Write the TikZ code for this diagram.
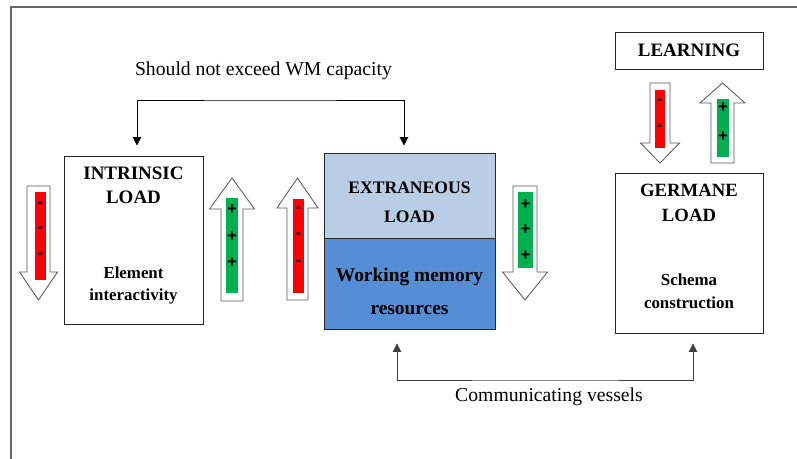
\documentclass[tikz,border=0pt]{standalone}
\usepackage{fontspec}
\setmainfont{Liberation Serif}
\newfontfamily\signfont{Liberation Sans}
\usetikzlibrary{arrows.meta,fit,calc}

\definecolor{lightblu}{HTML}{B9CDE5}
\definecolor{midblu}{HTML}{558ED5}
\definecolor{grn}{HTML}{00B050}

% hollow block arrow: centre x, half shaft, half head, flat end, head base, tip
\newcommand{\blkarrow}[6]{%
  \draw[blk] (#1-#2,#4) -- (#1+#2,#4) -- (#1+#2,#5) -- (#1+#3,#5)
    -- (#1,#6) -- (#1-#3,#5) -- (#1-#2,#5) -- cycle;}

\tikzset{
  box/.style={draw=black!85, line width=0.7pt, inner sep=0pt},
  blk/.style={draw=black!65, line width=0.6pt, fill=white},
  ttl/.style={font=\fontsize{13.5}{17}\selectfont\bfseries, align=center},
  sub/.style={font=\fontsize{12}{15}\selectfont\bfseries, align=center},
  sgn/.style={font=\signfont\fontsize{12}{12}\selectfont\bfseries, inner sep=0pt},
  lbl/.style={font=\fontsize{14}{16}\selectfont},
}

\begin{document}
\begin{tikzpicture}[x=0.025cm, y=-0.025cm, >={Triangle[length=6pt,width=6pt]}]
 \useasboundingbox (0,0) rectangle (797,459);
 \draw[black!60, line width=1.2pt] (11,459) -- (11,7) -- (797,7);

	% Boites
 \node[box, fit={(64,156) (203,324)}] (intr) {};
 \node[box, fill=lightblu, fit={(324,153) (495,238)}] (extr) {};
 \node[box, fill=midblu, fit={(324,238) (495,329)}] (wmr) {};
 \node[box, fit={(615,173) (763,333)}] (germ) {};
 \node[box, fit={(615,32) (763,69)}] (learn) {};

 \node[ttl] (learnT) at (learn.center) {LEARNING};
 \node[ttl] (intrT) at (133.5,185) {INTRINSIC\\LOAD};
 \node[sub] (intrS) at (133.5,285.5) {Element\\interactivity};
 \node[ttl, font=\fontsize{12.5}{20.6}\selectfont\bfseries] (extrT) at (409.5,202.5) {EXTRANEOUS\\LOAD};
 \node[ttl, font=\fontsize{13.8}{23.5}\selectfont\bfseries] (wmrT) at (409.5,291.5) {Working memory\\resources};
 \node[ttl, font=\fontsize{13.3}{17.8}\selectfont\bfseries] (germT) at (689,202.5) {GERMANE\\LOAD};
 \node[sub, font=\fontsize{12}{16.4}\selectfont\bfseries] (germS) at (689,291.5) {Schema\\construction};

	% Liaisons
 \coordinate (capL) at ($(intr.north)+(3.5,-10)$);
 \coordinate (capR) at ($(extr.north)+(-5.5,-7)$);
 \coordinate (capM) at (270,100);
 \draw[<->, line width=0.7pt] (capL) |- (capM) -| (capR);
 \node[lbl, anchor=base] (capT) at (263.5,76) {Should not exceed WM capacity};

 \coordinate (vesL) at ($(wmr.south)+(-12.5,14)$);
 \coordinate (vesR) at ($(germ.south)+(4,10)$);
 \coordinate (vesM) at (545,380);
 \draw[<->, black!75, line width=0.7pt] (vesL) |- (vesM) -| (vesR);
 \node[lbl, anchor=base] (vesT) at (549,401) {Communicating vessels};

	% Fleches
 \blkarrow{38.5}{11.5}{19}{186}{272}{300}
 \fill[red] (35,192) rectangle (46,280);
 \foreach \s in {205,230,256} \node[sgn] (mA\s) at (40.5,\s) {-};

 \blkarrow{232}{11}{22.5}{301}{209}{178}
 \fill[grn] (226,198) rectangle (238,293);
 \foreach \s in {210,237,263} \node[sgn] (pA\s) at (232,\s) {+};

 \blkarrow{297.5}{10.5}{20.5}{300}{208}{178}
 \fill[red] (293,199) rectangle (304,293);
 \foreach \s in {210,236,263} \node[sgn] (mB\s) at (298.5,\s) {-};

 \blkarrow{525}{12}{22.5}{186}{272}{300}
 \fill[grn] (518,192) rectangle (533,268);
 \foreach \s in {205,230,256} \node[sgn] (pB\s) at (525.5,\s) {+};

 \blkarrow{660}{10}{19.5}{83}{143}{163}
 \fill[red] (655,90) rectangle (665,148);
 \foreach \s in {102,128} \node[sgn] (mC\s) at (660,\s) {-};

 \blkarrow{722.5}{11.5}{22.5}{163}{103}{83}
 \fill[grn] (717,99) rectangle (729,157);
 \foreach \s in {108,137} \node[sgn] (pC\s) at (723,\s) {+};
\end{tikzpicture}
\end{document}
